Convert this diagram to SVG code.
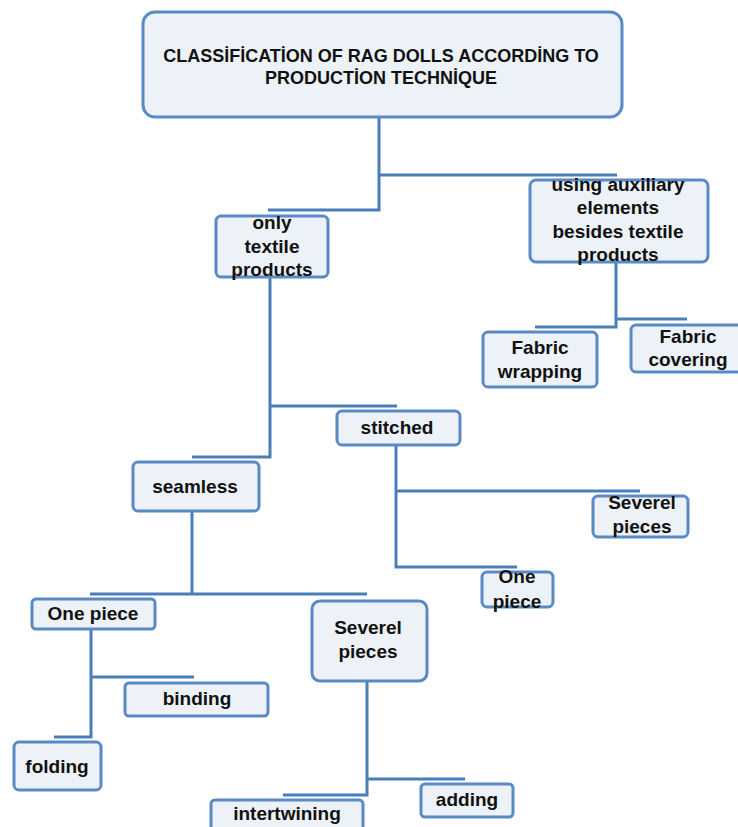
<svg xmlns="http://www.w3.org/2000/svg" width="738" height="827" viewBox="0 0 738 827">
<style>
.box{fill:#EDF1F8;stroke:#5A8AC6;stroke-width:3}
.t{font-family:"Liberation Sans",Arial,sans-serif;font-weight:bold;font-size:19px;fill:#111;text-anchor:middle}
.tt{font-size:18px}
.c{fill:none;stroke:#4A7EBB;stroke-width:3}
</style>
<rect width="738" height="827" fill="#fff"/>
<g id="connectors">
<path class="c" d="M379 117 V210 H268"/>
<path class="c" d="M379 175 H617"/>
<path class="c" d="M616 262 V327 H535"/>
<path class="c" d="M616 319 H687"/>
<path class="c" d="M270 277 V457 H192"/>
<path class="c" d="M270 406 H397"/>
<path class="c" d="M396 445 V567 H517"/>
<path class="c" d="M396 491 H640"/>
<path class="c" d="M192 511 V594"/>
<path class="c" d="M90 594 H367"/>
<path class="c" d="M91 629 V737 H54"/>
<path class="c" d="M91 677 H194"/>
<path class="c" d="M367 681 V795 H283"/>
<path class="c" d="M367 779 H465"/>
</g>
<g id="root">
<rect class="box" x="143" y="12" width="479" height="105" rx="12"/>
<text class="t tt" x="381" y="61.5">CLASSİFİCATİON OF RAG DOLLS ACCORDİNG TO</text>
<text class="t tt" x="381" y="83.5">PRODUCTİON TECHNİQUE</text>
</g>
<g id="only-textile">
<rect class="box" x="216" y="216" width="112" height="61" rx="5"/>
<text class="t" x="272" y="229">only</text>
<text class="t" x="272" y="253">textile</text>
<text class="t" x="272" y="276">products</text>
</g>
<g id="auxiliary">
<rect class="box" x="530" y="180" width="178" height="82" rx="6"/>
<text class="t" x="618" y="191">using auxiliary</text>
<text class="t" x="618" y="214">elements</text>
<text class="t" x="618" y="238">besides textile</text>
<text class="t" x="618" y="261">products</text>
</g>
<g id="fabric-wrapping">
<rect class="box" x="483" y="332" width="114" height="55" rx="5"/>
<text class="t" x="540" y="354">Fabric</text>
<text class="t" x="540" y="378">wrapping</text>
</g>
<g id="fabric-covering">
<rect class="box" x="631" y="325" width="115" height="47" rx="5"/>
<text class="t" x="688" y="343">Fabric</text>
<text class="t" x="688" y="366">covering</text>
</g>
<g id="stitched">
<rect class="box" x="337" y="411" width="123" height="34" rx="5"/>
<text class="t" x="397" y="434">stitched</text>
</g>
<g id="seamless">
<rect class="box" x="133" y="462" width="126" height="49" rx="5"/>
<text class="t" x="195" y="493">seamless</text>
</g>
<g id="stitched-several">
<rect class="box" x="593" y="496" width="95" height="41" rx="5"/>
<text class="t" x="642" y="509">Severel</text>
<text class="t" x="642" y="533">pieces</text>
</g>
<g id="stitched-one">
<rect class="box" x="482" y="572" width="71" height="35" rx="5"/>
<text class="t" x="517" y="583">One</text>
<text class="t" x="517" y="608">piece</text>
</g>
<g id="seamless-one">
<rect class="box" x="32" y="599" width="123" height="30" rx="4"/>
<text class="t" x="93" y="620">One piece</text>
</g>
<g id="seamless-several">
<rect class="box" x="312" y="601" width="115" height="80" rx="8"/>
<text class="t" x="368" y="634">Severel</text>
<text class="t" x="368" y="658">pieces</text>
</g>
<g id="binding">
<rect class="box" x="125" y="683" width="143" height="33" rx="4"/>
<text class="t" x="197" y="705">binding</text>
</g>
<g id="folding">
<rect class="box" x="14" y="742" width="87" height="48" rx="5"/>
<text class="t" x="57" y="773">folding</text>
</g>
<g id="adding">
<rect class="box" x="421" y="784" width="92" height="33" rx="4"/>
<text class="t" x="467" y="806">adding</text>
</g>
<g id="intertwining">
<rect class="box" x="211" y="800" width="152" height="40" rx="4"/>
<text class="t" x="287" y="820">intertwining</text>
</g>
</svg>
